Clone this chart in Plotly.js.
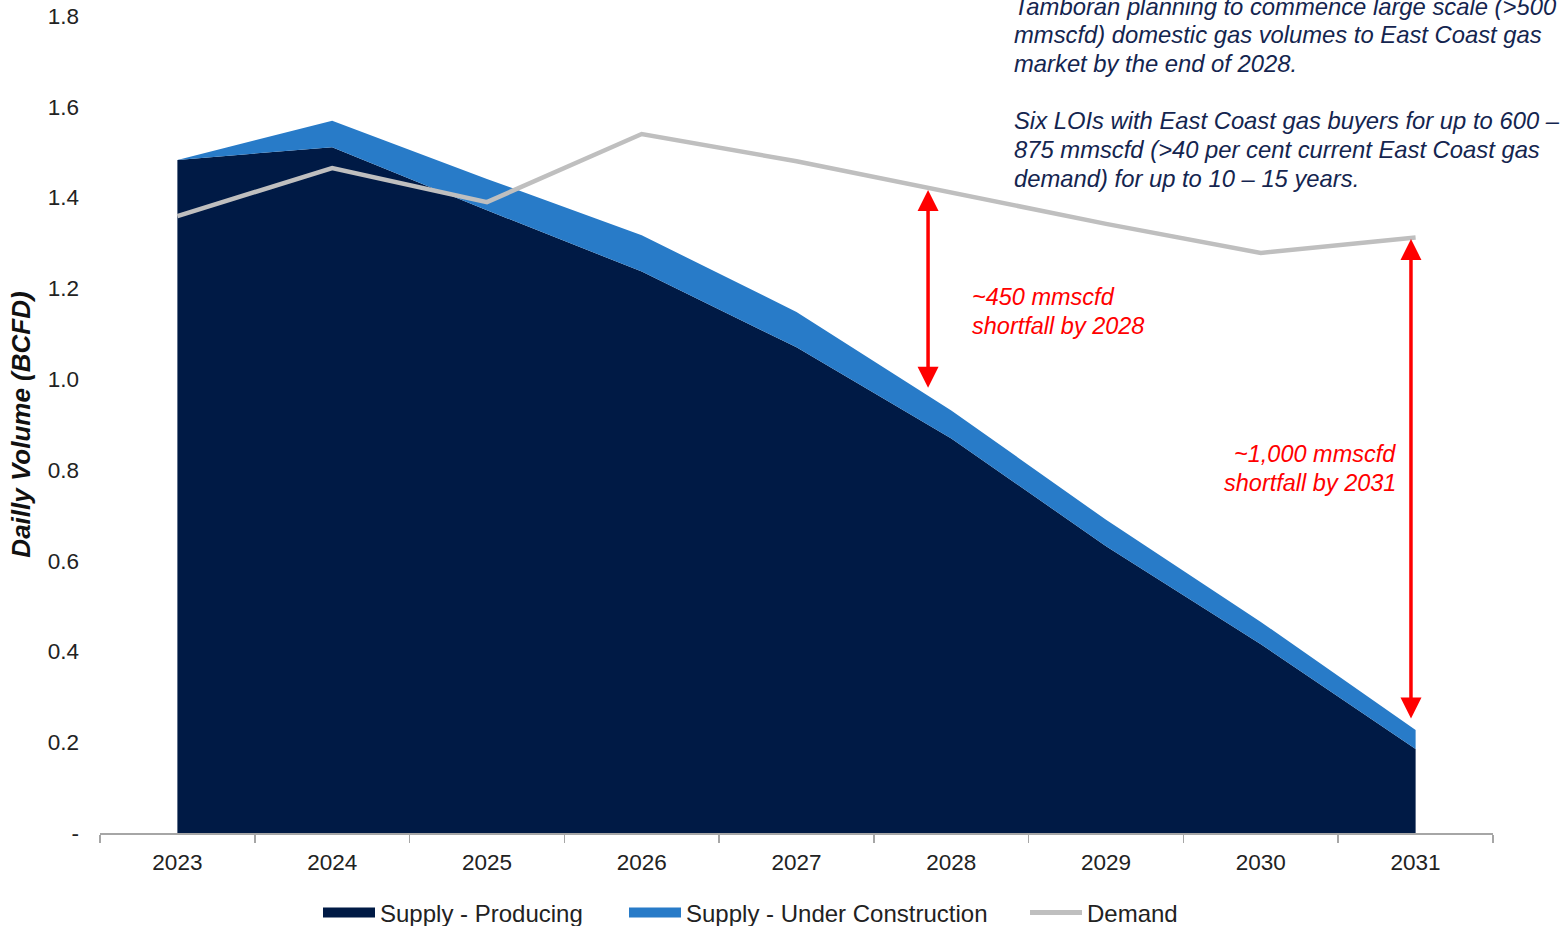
<!DOCTYPE html>
<html>
<head>
<meta charset="utf-8">
<script src="https://cdn.plot.ly/plotly-3.0.1.min.js"></script>
<style>
html,body{margin:0;padding:0;background:#fff;}
#chart{width:1565px;height:926px;}
</style>
</head>
<body>
<div id="chart"></div>
<script>
// ---- data ----
var years = ["2023","2024","2025","2026","2027","2028","2029","2030","2031"];
var supplyProducing = [1.483, 1.511, 1.372, 1.237, 1.070, 0.869, 0.632, 0.416, 0.185];
var supplyUnderConstruction = [0.000, 0.058, 0.069, 0.080, 0.078, 0.062, 0.058, 0.049, 0.042];
var demand = [1.359, 1.465, 1.390, 1.540, 1.480, 1.412, 1.342, 1.278, 1.312];
var yTickVals = [0, 0.2, 0.4, 0.6, 0.8, 1.0, 1.2, 1.4, 1.6, 1.8];
var yTickText = ["-", "0.2", "0.4", "0.6", "0.8", "1.0", "1.2", "1.4", "1.6", "1.8"];
var infoLines = [
  "Tamboran planning to commence large scale (>500",
  "mmscfd) domestic gas volumes to East Coast gas",
  "market by the end of 2028.",
  "",
  "Six LOIs with East Coast gas buyers for up to 600 –",
  "875 mmscfd (>40 per cent current East Coast gas",
  "demand) for up to 10 – 15 years."
];
var shortfall2028 = ["~450 mmscfd", "shortfall by 2028"];
var shortfall2031 = ["~1,000 mmscfd", "shortfall by 2031"];

var FONT = "Liberation Sans, Arial, sans-serif";
var NAVY = "#001A45";
var BLUE = "#287BC8";
var GREY = "#BFBFBF";
var RED = "#FF0000";

var traces = [
  {
    x: years, y: supplyProducing, name: "Supply - Producing", showlegend: false,
    type: "scatter", mode: "lines", stackgroup: "supply",
    line: {width: 0, color: NAVY}, fillcolor: NAVY, hoverinfo: "skip"
  },
  {
    x: years, y: supplyUnderConstruction, name: "Supply - Under Construction", showlegend: false,
    type: "scatter", mode: "lines", stackgroup: "supply",
    line: {width: 0, color: BLUE}, fillcolor: BLUE, hoverinfo: "skip"
  },
  {
    x: years, y: demand, name: "Demand", showlegend: false,
    type: "scatter", mode: "lines",
    line: {width: 4.5, color: GREY}, hoverinfo: "skip"
  },
  // legend entries (no data drawn)
  {x: [null], y: [null], type: "scatter", mode: "lines", name: "Supply - Producing",
   line: {width: 12, color: NAVY}, legend: "legend"},
  {x: [null], y: [null], type: "scatter", mode: "lines", name: "Supply - Under Construction",
   line: {width: 12, color: BLUE}, legend: "legend2"},
  {x: [null], y: [null], type: "scatter", mode: "lines", name: "Demand",
   line: {width: 5, color: GREY}, legend: "legend3"}
];

function total(i){ return supplyProducing[i] + supplyUnderConstruction[i]; }
var i28 = years.indexOf("2028"), i31 = years.indexOf("2031");

// pixel helpers for placing decorative text (plot area 100..1493 x 16..833)
function py(p){ return (833 - p) / 817; }
function px(p){ return (p - 100) / 1393; }

var annotations = [];
infoLines.forEach(function(t, k){
  if (!t) return;
  annotations.push({
    xref: "paper", yref: "paper", x: px(1012), y: py(6 + 28.7 * k),
    xanchor: "left", yanchor: "middle", align: "left", showarrow: false,
    text: t, font: {family: FONT, size: 23.8, color: "#14254F", style: "italic"}
  });
});
shortfall2028.forEach(function(t, k){
  annotations.push({
    xref: "paper", yref: "paper", x: px(970), y: py(297 + 28.5 * k),
    xanchor: "left", yanchor: "middle", align: "left", showarrow: false,
    text: t, font: {family: FONT, size: 23.5, color: RED, style: "italic"}
  });
});
shortfall2031.forEach(function(t, k){
  annotations.push({
    xref: "paper", yref: "paper", x: px(1398), y: py(454 + 28.8 * k),
    xanchor: "right", yanchor: "middle", align: "right", showarrow: false,
    text: t, font: {family: FONT, size: 23.5, color: RED, style: "italic"}
  });
});
annotations.push({
  xref: "x", yref: "y", axref: "x", ayref: "y",
  x: i28 - 0.15, y: total(i28) + 0.05, ax: i28 - 0.15, ay: demand[i28] + 0.008,
  text: "", showarrow: true, arrowside: "end+start", arrowhead: 2, arrowsize: 1.2,
  arrowwidth: 3.5, arrowcolor: RED, standoff: 0, startstandoff: 0
});
annotations.push({
  xref: "x", yref: "y", axref: "x", ayref: "y",
  x: i31 - 0.03, y: total(i31) + 0.025, ax: i31 - 0.03, ay: demand[i31],
  text: "", showarrow: true, arrowside: "end+start", arrowhead: 2, arrowsize: 1.2,
  arrowwidth: 3.5, arrowcolor: RED, standoff: 0, startstandoff: 0
});

var legFont = {family: FONT, size: 24, color: "#222222"};
function leg(xpix){
  return {orientation: "h", x: px(xpix), xanchor: "left", y: py(913), yanchor: "middle",
          font: legFont, itemwidth: 52, bgcolor: "rgba(0,0,0,0)", borderwidth: 0};
}

var layout = {
  width: 1565, height: 926,
  paper_bgcolor: "#ffffff", plot_bgcolor: "#ffffff",
  margin: {l: 100, r: 72, t: 16, b: 93, autoexpand: false},
  font: {family: FONT, size: 22, color: "#222222"},
  showlegend: true,
  legend: leg(318),
  legend2: leg(624),
  legend3: leg(1025),
  xaxis: {
    type: "category", range: [-0.5, 8.5],
    showline: true, linecolor: "#A6A6A6", linewidth: 1.5,
    ticks: "outside", tickson: "boundaries", ticklen: 8, tickcolor: "#A6A6A6", tickwidth: 1.5,
    ticklabelstandoff: 8,
    showgrid: false, zeroline: false,
    tickfont: {family: FONT, size: 22.5, color: "#222222"}
  },
  yaxis: {
    range: [0, 1.8], tickvals: yTickVals, ticktext: yTickText,
    showline: false, showgrid: false, zeroline: false, ticks: "",
    ticklabelstandoff: 20,
    tickfont: {family: FONT, size: 22.5, color: "#222222"},
    title: {text: "<b><i>Dailly Volume (BCFD)</i></b>", font: {family: FONT, size: 26, color: "#111111"}, standoff: 9}
  },
  annotations: annotations
};

Plotly.newPlot("chart", traces, layout, {staticPlot: true, displayModeBar: false});
</script>
</body>
</html>
